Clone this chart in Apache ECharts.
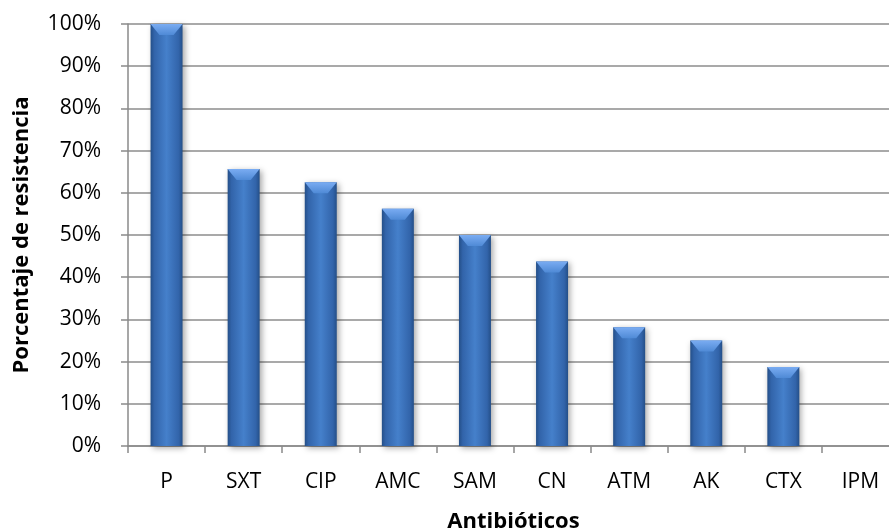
<!DOCTYPE html>
<html>
<head>
<meta charset="utf-8">
<script src="https://cdn.jsdelivr.net/npm/echarts@6/dist/echarts.min.js"></script>
<style>
  html, body { margin: 0; padding: 0; background: #fff; }
  #chart { width: 889px; height: 531px; }
</style>
</head>
<body>
<div id="chart"></div>
<script>
const categories = ['P', 'SXT', 'CIP', 'AMC', 'SAM', 'CN', 'ATM', 'AK', 'CTX', 'IPM'];
const resistance = [100, 65.625, 62.5, 56.25, 50, 43.75, 28.125, 25, 18.75, 0];
const yTicks = [0, 10, 20, 30, 40, 50, 60, 70, 80, 90, 100];

const chartDom = document.getElementById('chart');
const myChart = echarts.init(chartDom);
const font = '"Open Sans", Lato, sans-serif';

const barColor = new echarts.graphic.LinearGradient(0, 0, 1, 0, [
    { offset: 0, color: '#244f88' },
    { offset: 0.12, color: '#3264aa' },
    { offset: 0.5, color: '#4580cb' },
    { offset: 0.88, color: '#3264aa' },
    { offset: 1, color: '#244f88' }
]);

const bevelColor = new echarts.graphic.LinearGradient(0, 0, 0, 1, [
    { offset: 0, color: '#7aacf2' },
    { offset: 1, color: '#4f8ad6' }
]);

const option = {
    animation: false,
    grid: {
        left: 128,
        top: 24,
        width: 771,
        height: 422,
        outerBoundsMode: 'none',
        containLabel: false
    },
    xAxis: {
        type: 'category',
        data: categories,
        name: 'Antibióticos',
        nameLocation: 'middle',
        nameGap: 65,
        nameTextStyle: { fontFamily: font, fontSize: 22, fontWeight: 'bold', color: '#000' },
        axisLine: { lineStyle: { color: '#8a8a8a', width: 1.5 } },
        axisTick: { show: true, length: 7, lineStyle: { color: '#8a8a8a', width: 1.5 } },
        axisLabel: { fontFamily: font, fontSize: 21, color: '#000', margin: 26 }
    },
    yAxis: {
        type: 'value',
        min: 0,
        max: 100,
        interval: 10,
        name: 'Porcentaje de resistencia',
        nameLocation: 'middle',
        nameGap: 95,
        nameTextStyle: { fontFamily: font, fontSize: 22, fontWeight: 'bold', color: '#000' },
        axisLine: { show: true, lineStyle: { color: '#8a8a8a', width: 1.5 } },
        axisTick: { show: true, length: 7, lineStyle: { color: '#8a8a8a', width: 1.5 } },
        axisLabel: {
            fontFamily: font, fontSize: 21, color: '#000', margin: 27,
            formatter: (v) => yTicks.includes(v) ? v + '%' : ''
        },
        splitLine: { lineStyle: { color: '#8c8c8c', width: 1.5 } }
    },
    series: [
        {
            name: 'Porcentaje de resistencia',
            type: 'bar',
            data: resistance,
            barWidth: 32,
            itemStyle: {
                color: barColor,
                borderWidth: 0,
                shadowBlur: 6,
                shadowColor: 'rgba(0,0,0,0.35)',
                shadowOffsetX: 2,
                shadowOffsetY: 2
            }
        },
        {
            name: 'bevel',
            type: 'pictorialBar',
            data: resistance.map(v => (v > 0 ? v : '-')),
            symbol: 'path://M0,0 L100,0 L72,100 L28,100 Z',
            symbolSize: [32, 11],
            symbolPosition: 'end',
            symbolOffset: [0, 0],
            z: 3,
            itemStyle: { color: bevelColor },
            silent: true
        }
    ]
};

option && myChart.setOption(option);
</script>
</body>
</html>
